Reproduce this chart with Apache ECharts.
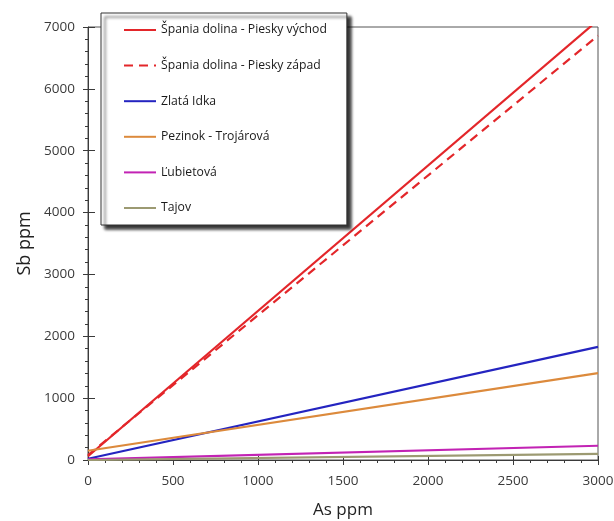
<!DOCTYPE html>
<html>
<head>
<meta charset="utf-8">
<script src="https://cdn.jsdelivr.net/npm/echarts@6/dist/echarts.min.js"></script>
<style>
  html, body { margin: 0; padding: 0; background: #fff; }
  #chart { width: 614px; height: 521px; }
</style>
</head>
<body>
<div id="chart"></div>
<script>
// As (ppm) at the two ends of each regression line
const asPpm = [0, 3000];

// Sb (ppm) fitted values at those As concentrations
const spaniaVychod = [60, 7110];
const spaniaZapad = [80, 6860];
const zlataIdka = [20, 1830];
const pezinok = [150, 1405];
const lubietova = [10, 230];
const tajov = [0, 100];

const seriesNames = [
  'Špania dolina - Piesky východ',
  'Špania dolina - Piesky západ',
  'Zlatá Idka',
  'Pezinok - Trojárová',
  'Ľubietová',
  'Tajov'
];
const seriesValues = [spaniaVychod, spaniaZapad, zlataIdka, pezinok, lubietova, tajov];
const seriesColors = ['#e3262a', '#e3262a', '#2424c0', '#dc8a3c', '#c223b4', '#9c9a72'];
const seriesDash = ['solid', [9, 6], 'solid', 'solid', 'solid', 'solid'];

const xTicks = { min: 0, max: 3000, interval: 500 };
const yTicks = { min: 0, max: 7000, interval: 1000 };

const font = '"Open Sans", sans-serif';
const plain = v => String(v);

const chart = echarts.init(document.getElementById('chart'), null, { renderer: 'canvas' });

const series = seriesNames.map((name, i) => ({
  name,
  type: 'line',
  xAxisIndex: 0,
  yAxisIndex: 0,
  symbol: 'none',
  clip: true,
  silent: true,
  animation: false,
  lineStyle: { color: seriesColors[i], width: 2.2, type: seriesDash[i] },
  itemStyle: { color: seriesColors[i] },
  data: asPpm.map((a, k) => [a, seriesValues[i][k]])
}));

const axisLineStyle = { lineStyle: { color: '#3a3a3a', width: 1 } };

chart.setOption({
  animation: false,
  grid: {
    left: 88, right: 16, top: 27, bottom: 61,
    outerBoundsMode: 'none',
    containLabel: false,
    show: true, borderColor: '#555', borderWidth: 1
  },
  legend: {
    orient: 'vertical',
    left: 101,
    top: 13,
    itemWidth: 32,
    itemHeight: 14,
    itemGap: 23.6,
    padding: [11, 20, 11, 22],
    backgroundColor: '#fff',
    borderColor: '#333',
    borderWidth: 1,
    shadowColor: 'rgba(0,0,0,0.8)',
    shadowBlur: 3,
    shadowOffsetX: 4,
    shadowOffsetY: 4,
    itemStyle: { opacity: 0 },
    textStyle: { fontFamily: font, fontSize: 12.2, color: '#1a1a1a' },
    data: seriesNames
  },
  xAxis: [{
    type: 'value',
    min: xTicks.min, max: xTicks.max, interval: xTicks.interval,
    name: 'As ppm', nameLocation: 'middle', nameGap: 42, nameMoveOverlap: false,
    nameTextStyle: { fontFamily: font, fontSize: 17, color: '#222' },
    axisLine: axisLineStyle,
    axisTick: { show: true, inside: false, length: 5, lineStyle: { color: '#3a3a3a' } },
    minorTick: { show: true, splitNumber: 5, length: 3, lineStyle: { color: '#3a3a3a' } },
    splitLine: { show: false },
    axisLabel: { fontFamily: font, fontSize: 13.5, color: '#3a3a3a', margin: 14, formatter: plain }
  }, {
    type: 'value', position: 'bottom',
    min: xTicks.min, max: xTicks.max, interval: xTicks.interval,
    axisLine: { show: false },
    axisTick: { show: true, inside: true, length: 4, lineStyle: { color: '#3a3a3a' } },
    axisLabel: { show: false },
    splitLine: { show: false }
  }],
  yAxis: [{
    type: 'value',
    min: yTicks.min, max: yTicks.max, interval: yTicks.interval,
    name: 'Sb ppm', nameLocation: 'middle', nameGap: 54, nameMoveOverlap: false,
    nameTextStyle: { fontFamily: font, fontSize: 18, color: '#222' },
    axisLine: axisLineStyle,
    axisTick: { show: true, inside: false, length: 5, lineStyle: { color: '#3a3a3a' } },
    minorTick: { show: true, splitNumber: 5, length: 3, lineStyle: { color: '#3a3a3a' } },
    splitLine: { show: false },
    axisLabel: { fontFamily: font, fontSize: 13.5, color: '#3a3a3a', margin: 13, formatter: plain }
  }, {
    type: 'value', position: 'left',
    min: yTicks.min, max: yTicks.max, interval: yTicks.interval,
    axisLine: { show: false },
    axisTick: { show: true, inside: true, length: 7, lineStyle: { color: '#3a3a3a' } },
    axisLabel: { show: false },
    splitLine: { show: false }
  }],
  series
});
</script>
</body>
</html>
